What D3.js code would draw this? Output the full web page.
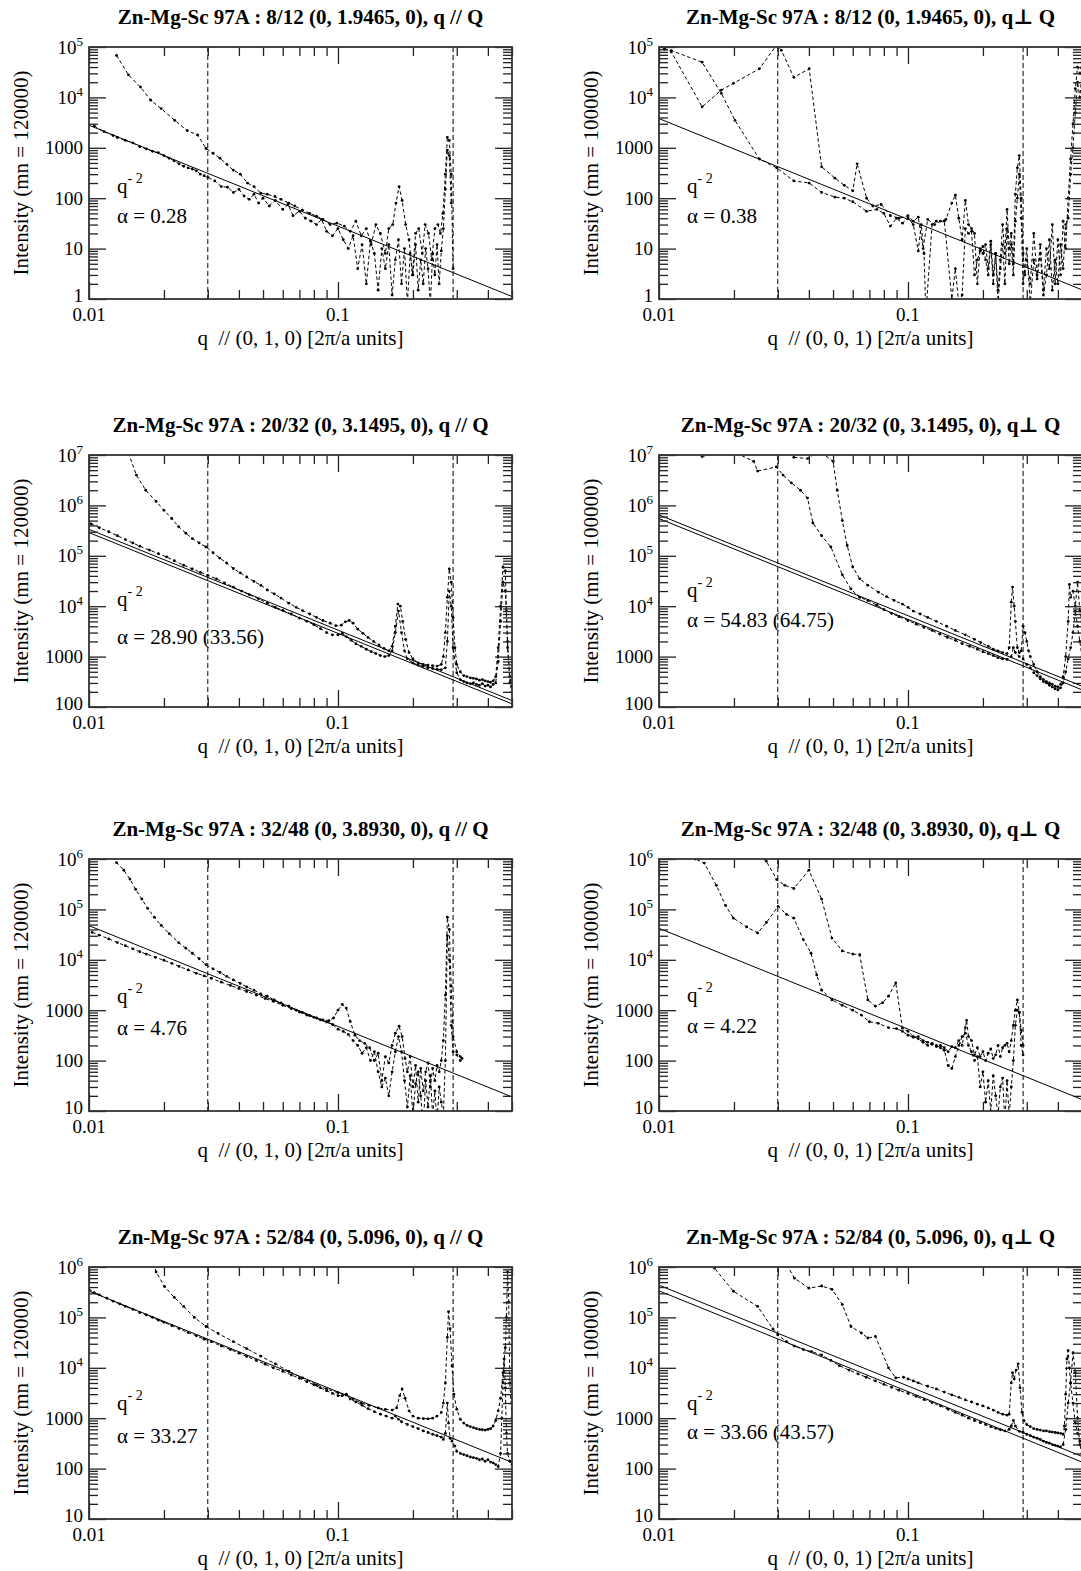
<!DOCTYPE html>
<html><head><meta charset="utf-8">
<script src="https://cdn.jsdelivr.net/npm/d3@7"></script>
<style>body{margin:0;background:#fff}svg{display:block}</style>
</head><body>
<script>
// ---------------- DATA ----------------
const titles = [
  "Zn-Mg-Sc 97A : 8/12 (0, 1.9465, 0), q // Q",
  "Zn-Mg-Sc 97A : 8/12 (0, 1.9465, 0), q\u22a5 Q",
  "Zn-Mg-Sc 97A : 20/32 (0, 3.1495, 0), q // Q",
  "Zn-Mg-Sc 97A : 20/32 (0, 3.1495, 0), q\u22a5 Q",
  "Zn-Mg-Sc 97A : 32/48 (0, 3.8930, 0), q // Q",
  "Zn-Mg-Sc 97A : 32/48 (0, 3.8930, 0), q\u22a5 Q",
  "Zn-Mg-Sc 97A : 52/84 (0, 5.096, 0), q // Q",
  "Zn-Mg-Sc 97A : 52/84 (0, 5.096, 0), q\u22a5 Q"
];
const yTitles = ["Intensity (mn = 120000)", "Intensity (mn = 100000)"];
const xTitles = ["q  // (0, 1, 0) [2\u03c0/a units]", "q  // (0, 0, 1) [2\u03c0/a units]"];
const xMajorTicks = [0.01, 0.1];
const xMinorTicks = [0.02,0.03,0.04,0.05,0.06,0.07,0.08,0.09,0.2,0.3,0.4,0.5];
const xTickLabels = ["0.01", "0.1"];
const markerLines = [0.03, 0.29];

const alpha_r1L = [0.28], alpha_r1R = [0.38];
const alpha_r2L = [28.90, 33.56], alpha_r2R = [54.83, 64.75];
const alpha_r3L = [4.76], alpha_r3R = [4.22];
const alpha_r4L = [33.27], alpha_r4R = [33.66, 43.57];

const r1L_a = [[0.0129,6.8e4],[0.0144,2.8e4],[0.0161,1.6e4],[0.0177,8.8e3],[0.0195,6.0e3],[0.0221,3.5e3],[0.0248,2.2e3],[0.0273,1.8e3],[0.0295,970],[0.0315,780],[0.0336,620],[0.0358,470],[0.038,360],[0.0405,300],[0.0433,200],[0.046,170],[0.049,126],[0.052,120],[0.0558,108],[0.059,95],[0.0635,80],[0.067,70],[0.072,58],[0.077,50],[0.082,44],[0.087,38],[0.093,30],[0.099,32],[0.106,28],[0.112,22],[0.118,35],[0.124,18],[0.13,25],[0.136,12],[0.142,30],[0.148,20],[0.155,8],[0.16,25],[0.166,30],[0.171,80],[0.176,170],[0.181,90],[0.187,30],[0.193,15],[0.199,3],[0.205,20],[0.211,25],[0.218,8],[0.224,30],[0.231,20],[0.238,6],[0.245,25],[0.252,30],[0.258,20],[0.264,50],[0.27,300],[0.275,1600],[0.28,1400],[0.285,300],[0.29,4]];
const r1L_b = [[0.0105,2.7e3],[0.0115,2.1e3],[0.0125,1.75e3],[0.013,1.6e3],[0.014,1.4e3],[0.015,1.25e3],[0.016,1.05e3],[0.017,950],[0.018,850],[0.019,800],[0.02,700],[0.021,620],[0.022,550],[0.023,480],[0.024,430],[0.025,400],[0.026,380],[0.027,350],[0.028,300],[0.029,280],[0.03,260],[0.032,220],[0.034,170],[0.036,165],[0.038,130],[0.04,150],[0.042,110],[0.044,95],[0.046,120],[0.048,80],[0.05,100],[0.053,70],[0.056,90],[0.06,60],[0.063,75],[0.066,45],[0.07,55],[0.074,40],[0.078,35],[0.082,30],[0.086,38],[0.09,22],[0.095,18],[0.1,25],[0.105,15],[0.11,10],[0.115,18],[0.12,4],[0.125,12],[0.13,2],[0.135,14],[0.14,8],[0.145,1.5],[0.15,10],[0.155,4],[0.16,12],[0.165,1.2],[0.17,6],[0.175,15],[0.18,2],[0.185,10],[0.19,0.8],[0.195,8],[0.2,3],[0.205,12],[0.21,1.5],[0.215,6],[0.22,2],[0.225,10],[0.23,4],[0.235,0.8],[0.24,8],[0.245,3],[0.25,12],[0.255,2],[0.26,9],[0.265,25],[0.27,150],[0.275,900],[0.28,700],[0.285,80]];

const r1R_a = [[0.0105,9.5e4],[0.0112,8e4],[0.0149,6.5e3],[0.0178,1.4e4],[0.0199,1.9e4],[0.0253,3.7e4],[0.0297,1.1e5],[0.031,8.6e4],[0.0348,2.5e4],[0.0401,3.7e4],[0.045,420],[0.0509,250],[0.0555,180],[0.06,140],[0.0625,480],[0.0682,100],[0.0722,70],[0.078,75],[0.085,45],[0.092,40],[0.1,45],[0.105,35],[0.11,42],[0.115,10],[0.12,38],[0.128,30],[0.135,35],[0.142,38],[0.15,80],[0.155,115],[0.16,40],[0.165,15],[0.17,90],[0.175,30],[0.18,25],[0.185,20],[0.19,2],[0.195,10],[0.2,8],[0.205,12],[0.21,4],[0.215,14],[0.22,3],[0.225,8],[0.23,1.5],[0.235,6],[0.24,30],[0.245,8],[0.25,60],[0.255,10],[0.26,20],[0.265,5],[0.27,120],[0.275,400],[0.28,700],[0.285,100],[0.29,8],[0.295,3],[0.3,6],[0.31,2],[0.32,20],[0.33,3],[0.34,12],[0.35,1.5],[0.36,10],[0.37,4],[0.38,30],[0.39,2],[0.4,15],[0.41,3],[0.42,35],[0.43,10],[0.44,100],[0.45,600],[0.46,3000],[0.47,1.5e4],[0.48,4e4],[0.49,3e4],[0.5,5e4]];
const r1R_b = [[0.0105,9e4],[0.0112,8.5e4],[0.0149,5e4],[0.0178,1.2e4],[0.0202,3.5e3],[0.0253,600],[0.0297,400],[0.0348,220],[0.0401,200],[0.045,130],[0.0509,105],[0.0555,100],[0.06,85],[0.0682,55],[0.075,60],[0.08,50],[0.085,28],[0.09,40],[0.095,32],[0.1,40],[0.105,30],[0.11,9],[0.113,30],[0.116,8],[0.118,0.5],[0.125,30],[0.13,35],[0.14,35],[0.15,1],[0.155,4],[0.16,0.8],[0.165,1.2],[0.17,25],[0.175,20],[0.18,22],[0.185,3],[0.19,6],[0.195,9],[0.2,11],[0.205,6],[0.21,3],[0.215,12],[0.22,2],[0.225,8],[0.23,0.8],[0.235,4],[0.24,12],[0.245,2],[0.25,25],[0.255,5],[0.26,12],[0.265,3],[0.27,35],[0.275,100],[0.28,300],[0.285,40],[0.29,2],[0.3,10],[0.31,0.8],[0.32,6],[0.33,2.5],[0.34,8],[0.35,1.2],[0.36,3],[0.37,15],[0.38,1.5],[0.39,6],[0.4,2],[0.41,12],[0.42,4],[0.43,30],[0.44,40],[0.45,300],[0.46,1000],[0.47,5000],[0.48,2e4],[0.49,1e4],[0.5,3e4]];

const r2L_a = [[0.0144,1.1e7],[0.0155,4e6],[0.0169,2e6],[0.0186,1.2e6],[0.02,8e5],[0.0215,5.5e5],[0.0229,3.8e5],[0.0245,2.8e5],[0.026,2.2e5],[0.0277,1.8e5],[0.0295,1.5e5],[0.0315,1.15e5],[0.0335,9e4],[0.0357,7.2e4],[0.038,5.6e4],[0.0405,4.6e4],[0.043,3.8e4],[0.046,3.1e4],[0.049,2.6e4],[0.052,2.1e4],[0.0555,1.75e4],[0.059,1.45e4],[0.0635,1.15e4],[0.068,9.5e3],[0.072,8.2e3],[0.077,7e3],[0.082,6e3],[0.087,5.2e3],[0.093,4.6e3],[0.098,4.1e3],[0.103,4.2e3],[0.107,4.9e3],[0.111,5.2e3],[0.115,4.6e3],[0.12,3.5e3],[0.126,2.9e3],[0.132,2.4e3],[0.139,2e3],[0.146,1.7e3],[0.153,1.45e3],[0.16,1.3e3],[0.165,1.6e3],[0.17,4e3],[0.174,1.1e4],[0.178,1e4],[0.182,5e3],[0.187,2.2e3],[0.193,1.2e3],[0.2,900],[0.21,750],[0.22,700],[0.23,680],[0.24,660],[0.25,650],[0.26,700],[0.265,1000],[0.27,3000],[0.275,1.5e4],[0.28,5.5e4],[0.285,3e4],[0.29,6e3],[0.295,1500],[0.3,700],[0.31,500],[0.32,420],[0.33,400],[0.34,380],[0.35,370],[0.36,360],[0.37,340],[0.38,350],[0.39,330],[0.4,320],[0.41,310],[0.42,330],[0.43,400],[0.44,1500],[0.45,1e4],[0.46,6e4],[0.47,5e4],[0.475,8e3],[0.48,1500],[0.49,400],[0.5,250]];
const r2L_b = [[0.0102,4.3e5],[0.011,3.6e5],[0.012,3e5],[0.013,2.5e5],[0.014,2.1e5],[0.015,1.8e5],[0.016,1.55e5],[0.0175,1.3e5],[0.019,1.1e5],[0.0205,9.5e4],[0.022,8e4],[0.024,6.5e4],[0.026,5.5e4],[0.028,4.7e4],[0.03,4.1e4],[0.0325,3.5e4],[0.035,2.9e4],[0.038,2.4e4],[0.041,2e4],[0.044,1.7e4],[0.048,1.4e4],[0.052,1.15e4],[0.056,9.5e3],[0.06,8.3e3],[0.065,7e3],[0.07,5.8e3],[0.075,5e3],[0.08,4.3e3],[0.085,3.6e3],[0.09,3e3],[0.095,2.7e3],[0.1,2.7e3],[0.104,2.9e3],[0.108,2.5e3],[0.113,2.1e3],[0.118,1.8e3],[0.124,1.6e3],[0.13,1.4e3],[0.136,1.25e3],[0.142,1.15e3],[0.148,1.05e3],[0.154,1e3],[0.16,1.05e3],[0.165,1.3e3],[0.17,3e3],[0.175,8e3],[0.18,3e3],[0.185,1.3e3],[0.19,900],[0.2,750],[0.21,680],[0.22,640],[0.23,600],[0.24,580],[0.25,560],[0.26,550],[0.27,600],[0.275,2e3],[0.28,2e4],[0.285,1e4],[0.29,1.5e3],[0.3,480],[0.31,350],[0.32,320],[0.33,300],[0.34,290],[0.35,300],[0.36,280],[0.37,270],[0.38,290],[0.39,260],[0.4,270],[0.41,250],[0.42,280],[0.43,300],[0.44,800],[0.45,5e3],[0.46,3e4],[0.47,2e4],[0.48,2e3],[0.49,300],[0.5,200]];

const r2R_a = [[0.0149,9.3e6],[0.019,1.3e7],[0.024,7.5e6],[0.0249,4.8e6],[0.0296,5.8e6],[0.0315,4e6],[0.034,2.8e6],[0.037,2e6],[0.0395,1.4e6],[0.0415,4.5e5],[0.045,2.5e5],[0.049,1.5e5],[0.0545,4.2e4],[0.059,2.2e4],[0.064,1.5e4],[0.069,1.3e4],[0.075,1.05e4],[0.08,8.6e3],[0.086,7.2e3],[0.092,6.2e3],[0.1,5.2e3],[0.108,4.4e3],[0.116,3.8e3],[0.125,3.3e3],[0.134,2.8e3],[0.144,2.4e3],[0.155,2.1e3],[0.165,1.8e3],[0.177,1.6e3],[0.19,1.4e3],[0.2,1.25e3],[0.21,1.15e3],[0.22,1.05e3],[0.23,950],[0.24,900],[0.25,880],[0.26,1e3],[0.265,1.5e3],[0.27,1.2e3],[0.28,1e3],[0.29,900],[0.3,700],[0.31,600],[0.32,480],[0.33,420],[0.34,360],[0.35,320],[0.36,300],[0.37,270],[0.38,250],[0.39,230],[0.4,220],[0.41,240],[0.42,300],[0.43,500],[0.44,900],[0.45,1500],[0.46,3e3],[0.47,8e3],[0.48,4e3],[0.49,2e3],[0.5,1e3]];
const r2R_b = [[0.0348,9e6],[0.0395,8.5e6],[0.044,1.2e7],[0.05,7.5e6],[0.052,2e6],[0.0545,5e5],[0.057,1.6e5],[0.06,6e4],[0.064,3.5e4],[0.069,2.6e4],[0.0761,1.9e4],[0.082,1.55e4],[0.088,1.3e4],[0.095,1.1e4],[0.1,9.5e3],[0.105,8e3],[0.112,7e3],[0.12,6e3],[0.13,5e3],[0.143,4e3],[0.155,3.3e3],[0.17,2.7e3],[0.185,2.2e3],[0.196,1.9e3],[0.21,1.6e3],[0.22,1.4e3],[0.23,1.3e3],[0.24,1.2e3],[0.25,1.15e3],[0.255,1.5e3],[0.26,1.2e4],[0.263,2.4e4],[0.267,1e4],[0.27,5e3],[0.275,1.5e3],[0.28,1.2e3],[0.285,1.3e3],[0.29,4e3],[0.295,3e3],[0.3,2e3],[0.305,1.3e3],[0.31,1e3],[0.32,700],[0.33,500],[0.34,400],[0.35,350],[0.36,320],[0.37,300],[0.38,280],[0.39,260],[0.4,250],[0.41,280],[0.42,400],[0.43,1e3],[0.44,5e3],[0.445,2.7e4],[0.45,1.5e4],[0.46,2e4],[0.47,1e4],[0.48,3e4],[0.49,8e3],[0.5,5e3]];

const r3L_a = [[0.0125,1.1e6],[0.0129,8.5e5],[0.0138,6e5],[0.0146,4e5],[0.0154,2.5e5],[0.0163,1.6e5],[0.0172,1.05e5],[0.0183,7e4],[0.0195,4.8e4],[0.021,3.3e4],[0.0229,2.2e4],[0.0245,1.7e4],[0.026,1.35e4],[0.0277,1.05e4],[0.0295,8e3],[0.0315,6.6e3],[0.0336,5.6e3],[0.0357,4.7e3],[0.038,4e3],[0.0405,3.4e3],[0.043,2.9e3],[0.046,2.5e3],[0.049,2.1e3],[0.052,1.9e3],[0.0555,1.6e3],[0.059,1.4e3],[0.0635,1.2e3],[0.068,1e3],[0.072,900],[0.077,780],[0.082,700],[0.087,640],[0.092,620],[0.096,700],[0.1,1e3],[0.104,1.3e3],[0.108,1.1e3],[0.112,600],[0.117,320],[0.122,250],[0.128,220],[0.134,180],[0.14,100],[0.145,140],[0.15,40],[0.155,120],[0.16,90],[0.165,200],[0.17,350],[0.176,480],[0.181,300],[0.186,110],[0.19,60],[0.195,120],[0.2,30],[0.205,80],[0.21,15],[0.215,70],[0.22,25],[0.225,60],[0.23,90],[0.235,30],[0.24,70],[0.245,40],[0.25,80],[0.255,60],[0.26,100],[0.265,250],[0.27,2e3],[0.275,7e4],[0.28,4e4],[0.285,3e3],[0.29,300],[0.3,150],[0.31,120],[0.315,110]];
const r3L_b = [[0.0103,3.5e4],[0.011,3.1e4],[0.012,2.6e4],[0.013,2.2e4],[0.014,1.9e4],[0.015,1.65e4],[0.016,1.45e4],[0.017,1.3e4],[0.0185,1.12e4],[0.02,9.8e3],[0.0215,8.5e3],[0.023,7.4e3],[0.025,6.3e3],[0.027,5.4e3],[0.029,4.8e3],[0.031,4.3e3],[0.034,3.6e3],[0.037,3.1e3],[0.04,2.7e3],[0.043,2.35e3],[0.047,2e3],[0.051,1.7e3],[0.055,1.5e3],[0.06,1.25e3],[0.065,1.07e3],[0.07,920],[0.075,800],[0.08,720],[0.085,640],[0.09,580],[0.095,520],[0.1,420],[0.105,380],[0.11,330],[0.115,250],[0.12,200],[0.125,140],[0.13,180],[0.135,100],[0.14,150],[0.145,60],[0.15,30],[0.155,45],[0.16,20],[0.165,60],[0.17,150],[0.175,300],[0.18,150],[0.185,40],[0.19,12],[0.195,50],[0.2,8],[0.205,35],[0.21,60],[0.215,20],[0.22,5],[0.225,40],[0.23,12],[0.235,50],[0.24,8],[0.245,25],[0.25,6],[0.255,30],[0.26,15],[0.265,8],[0.27,100],[0.275,3e4],[0.28,1e4],[0.285,500],[0.29,150],[0.3,130],[0.31,100]];

const r3R_a = [[0.0135,1.1e6],[0.014,1e6],[0.0152,8.3e5],[0.017,3e5],[0.0185,1.2e5],[0.0199,6.7e4],[0.0225,4.5e4],[0.0249,3.4e4],[0.027,5.5e4],[0.0301,1.15e5],[0.0325,8e4],[0.0348,6.7e4],[0.038,2.5e4],[0.0408,1.35e4],[0.043,5e3],[0.045,2.5e3],[0.0495,1.6e3],[0.0545,1.25e3],[0.06,1e3],[0.065,800],[0.07,590],[0.076,550],[0.0835,450],[0.09,430],[0.095,380],[0.1,320],[0.105,290],[0.11,300],[0.115,250],[0.12,230],[0.125,210],[0.13,200],[0.135,180],[0.14,160],[0.145,80],[0.15,70],[0.155,120],[0.16,200],[0.165,300],[0.17,350],[0.175,200],[0.18,150],[0.185,100],[0.19,120],[0.195,30],[0.2,60],[0.205,15],[0.21,40],[0.215,10],[0.22,50],[0.225,20],[0.23,8],[0.235,30],[0.24,45],[0.245,6],[0.25,40],[0.255,8],[0.26,30],[0.265,100],[0.27,500],[0.275,1e3],[0.28,900],[0.285,200],[0.29,130]];
const r3R_b = [[0.025,1.2e6],[0.027,9e5],[0.0297,3.9e5],[0.032,3e5],[0.0348,2.6e5],[0.04,6e5],[0.045,1.6e5],[0.0495,2.7e4],[0.0545,1.5e4],[0.06,1.3e4],[0.064,1.26e4],[0.069,1.6e3],[0.074,1.2e3],[0.079,1.4e3],[0.0835,1.9e3],[0.0893,3.5e3],[0.095,440],[0.1,380],[0.105,300],[0.11,270],[0.115,230],[0.12,200],[0.125,220],[0.13,190],[0.135,200],[0.14,180],[0.145,150],[0.15,190],[0.155,180],[0.16,250],[0.165,200],[0.17,450],[0.172,630],[0.175,300],[0.18,250],[0.185,130],[0.19,180],[0.195,120],[0.2,150],[0.205,100],[0.21,140],[0.215,170],[0.22,110],[0.225,130],[0.23,200],[0.235,120],[0.24,180],[0.245,200],[0.25,220],[0.255,150],[0.26,250],[0.265,500],[0.27,1e3],[0.275,1.6e3],[0.28,900],[0.285,400],[0.29,200]];

const r4L_a = [[0.0182,1.2e6],[0.0186,8e5],[0.0201,4.1e5],[0.022,2.5e5],[0.024,1.65e5],[0.0265,1e5],[0.0295,6.6e4],[0.033,4.8e4],[0.038,3.3e4],[0.043,2.4e4],[0.049,1.7e4],[0.056,1.2e4],[0.0635,8.5e3],[0.072,6.3e3],[0.082,4.6e3],[0.09,3.8e3],[0.1,3.2e3],[0.108,2.9e3],[0.115,2.4e3],[0.124,2e3],[0.133,1.8e3],[0.145,1.6e3],[0.155,1.5e3],[0.165,1.45e3],[0.172,1.6e3],[0.177,2.8e3],[0.181,3.8e3],[0.186,2.5e3],[0.193,1.4e3],[0.2,1.1e3],[0.21,1e3],[0.22,980],[0.23,970],[0.24,1e3],[0.25,1.1e3],[0.26,1.3e3],[0.265,2e3],[0.27,5e3],[0.275,4e4],[0.278,1.3e5],[0.282,6e4],[0.287,1.1e4],[0.292,3e3],[0.3,1.5e3],[0.31,950],[0.32,800],[0.33,720],[0.34,680],[0.35,650],[0.36,620],[0.37,600],[0.38,590],[0.39,580],[0.4,600],[0.41,620],[0.42,700],[0.43,900],[0.44,1.4e3],[0.45,2.5e3],[0.46,8e3],[0.47,2.5e4],[0.475,1e5],[0.48,8e5],[0.485,2e5],[0.49,5e3],[0.5,1e3]];
const r4L_b = [[0.01,3.6e5],[0.0105,3.1e5],[0.011,2.8e5],[0.0118,2.4e5],[0.0125,2.1e5],[0.0133,1.85e5],[0.014,1.65e5],[0.015,1.45e5],[0.016,1.25e5],[0.017,1.12e5],[0.018,1e5],[0.019,8.8e4],[0.02,8e4],[0.0215,6.9e4],[0.023,6e4],[0.025,5e4],[0.027,4.3e4],[0.029,3.7e4],[0.031,3.3e4],[0.034,2.7e4],[0.037,2.3e4],[0.04,1.95e4],[0.043,1.68e4],[0.047,1.4e4],[0.051,1.18e4],[0.055,1e4],[0.06,8.5e3],[0.065,7.2e3],[0.07,6.2e3],[0.075,5.3e3],[0.08,4.6e3],[0.085,4e3],[0.09,3.5e3],[0.095,3.1e3],[0.1,2.8e3],[0.104,2.8e3],[0.108,3e3],[0.112,2.4e3],[0.118,2.1e3],[0.125,1.8e3],[0.132,1.55e3],[0.14,1.35e3],[0.148,1.2e3],[0.156,1.1e3],[0.165,1e3],[0.17,1.1e3],[0.175,950],[0.18,850],[0.19,750],[0.2,680],[0.21,620],[0.22,560],[0.23,520],[0.24,480],[0.25,450],[0.26,420],[0.265,380],[0.27,500],[0.275,2e3],[0.278,800],[0.282,400],[0.287,350],[0.295,280],[0.3,220],[0.31,200],[0.32,190],[0.33,180],[0.34,170],[0.35,165],[0.36,160],[0.37,150],[0.38,155],[0.39,140],[0.4,150],[0.41,135],[0.42,130],[0.43,120],[0.44,110],[0.45,200],[0.455,1e3],[0.46,5e3],[0.465,1.5e4],[0.47,4e3],[0.475,500],[0.48,200],[0.49,140],[0.5,120]];

const r4R_a = [[0.0162,1.1e6],[0.0167,9.5e5],[0.0199,3.3e5],[0.0249,1.65e5],[0.0287,5.9e4],[0.03,4.5e4],[0.0325,3.3e4],[0.035,2.7e4],[0.038,2.3e4],[0.041,2.1e4],[0.045,1.8e4],[0.049,1.4e4],[0.053,1.1e4],[0.058,9e3],[0.063,7.6e3],[0.068,6.5e3],[0.074,5.5e3],[0.08,4.7e3],[0.086,4.1e3],[0.092,3.6e3],[0.1,3.1e3],[0.108,2.7e3],[0.116,2.35e3],[0.125,2.05e3],[0.135,1.75e3],[0.145,1.5e3],[0.155,1.3e3],[0.165,1.15e3],[0.175,1e3],[0.185,900],[0.195,820],[0.205,750],[0.215,680],[0.225,630],[0.235,590],[0.245,560],[0.255,600],[0.26,700],[0.265,900],[0.27,700],[0.28,550],[0.29,520],[0.3,480],[0.31,450],[0.32,420],[0.33,400],[0.34,380],[0.35,350],[0.36,330],[0.37,320],[0.38,300],[0.39,290],[0.4,280],[0.41,270],[0.42,300],[0.43,600],[0.44,2e3],[0.45,5e3],[0.46,2e4],[0.47,8e3],[0.48,1e3],[0.49,300],[0.5,200]];
const r4R_b = [[0.0326,1.1e6],[0.035,6e5],[0.04,3.8e5],[0.045,4.2e5],[0.0495,3.6e5],[0.0545,1.8e5],[0.059,6.6e4],[0.065,4.9e4],[0.069,3.9e4],[0.074,4.2e4],[0.0835,1e4],[0.0893,6.3e3],[0.096,6.5e3],[0.1,6e3],[0.105,5.5e3],[0.11,5e3],[0.12,4.3e3],[0.13,3.8e3],[0.14,3.3e3],[0.15,2.9e3],[0.16,2.6e3],[0.17,2.3e3],[0.18,2.1e3],[0.19,1.9e3],[0.2,1.75e3],[0.21,1.6e3],[0.22,1.45e3],[0.23,1.3e3],[0.24,1.2e3],[0.25,1.15e3],[0.255,1.2e3],[0.26,5e3],[0.263,8e3],[0.267,6e3],[0.272,9e3],[0.277,1.2e4],[0.282,4e3],[0.287,1.3e3],[0.292,900],[0.3,750],[0.31,680],[0.32,620],[0.33,600],[0.34,580],[0.35,560],[0.36,560],[0.37,540],[0.38,530],[0.39,520],[0.4,510],[0.41,500],[0.42,480],[0.425,700],[0.43,3e3],[0.435,1.5e4],[0.44,2.2e4],[0.445,1e4],[0.45,5e3],[0.46,2e3],[0.47,800],[0.48,500],[0.49,350],[0.5,300]];

// ---------------- LAYOUT ----------------
const W = 1081, H = 1571;
const colX = [89, 659], PW = 423, rowTop = [47, 455, 859, 1267], PH = 252;
const FONT = "'Liberation Serif','Times New Roman','DejaVu Serif',serif";

const panels = [
  {row:0,col:0,yDom:[1,1e5],series:[r1L_a,r1L_b],alphas:alpha_r1L,qY:146,aY:176},
  {row:0,col:1,yDom:[1,1e5],series:[r1R_a,r1R_b],alphas:alpha_r1R,qY:146,aY:176},
  {row:1,col:0,yDom:[100,1e7],series:[r2L_a,r2L_b],alphas:alpha_r2L,qY:151,aY:189},
  {row:1,col:1,yDom:[100,1e7],series:[r2R_a,r2R_b],alphas:alpha_r2R,qY:142,aY:172},
  {row:2,col:0,yDom:[10,1e6],series:[r3L_a,r3L_b],alphas:alpha_r3L,qY:144,aY:176},
  {row:2,col:1,yDom:[10,1e6],series:[r3R_a,r3R_b],alphas:alpha_r3R,qY:143,aY:174},
  {row:3,col:0,yDom:[10,1e6],series:[r4L_a,r4L_b],alphas:alpha_r4L,qY:143,aY:176},
  {row:3,col:1,yDom:[10,1e6],series:[r4R_a,r4R_b],alphas:alpha_r4R,qY:143,aY:172}
];

const svg = d3.select("body").append("svg").attr("width", W).attr("height", H)
  .style("font-family", FONT).style("background", "#fff");
const defs = svg.append("defs");

panels.forEach((p, i) => {
  const x0 = colX[p.col], y0 = rowTop[p.row];
  const x = d3.scaleLog().domain([0.01, 0.5]).range([x0, x0 + PW]);
  const y = d3.scaleLog().domain(p.yDom).range([y0 + PH, y0]);
  const g = svg.append("g");

  defs.append("clipPath").attr("id", "clip" + i).append("rect")
    .attr("x", x0).attr("y", y0).attr("width", PW).attr("height", PH);
  const dg = g.append("g").attr("clip-path", `url(#clip${i})`);

  // vertical dashed marker lines
  dg.selectAll(null).data(markerLines).join("line")
    .attr("x1", d => x(d)).attr("x2", d => x(d)).attr("y1", y0).attr("y2", y0 + PH)
    .attr("stroke", "#000").attr("stroke-width", 1).attr("stroke-dasharray", "5,3");

  // q^-2 fit lines
  const fitLine = d3.line().x(d => x(d[0])).y(d => y(d[1]));
  p.alphas.forEach(a => {
    dg.append("path").datum([[0.01, a / 1e-4], [0.5, a / 0.25]])
      .attr("d", fitLine).attr("fill", "none").attr("stroke", "#000").attr("stroke-width", 1);
  });

  // data series
  const line = d3.line().x(d => x(d[0])).y(d => y(d[1]));
  p.series.forEach(s => {
    dg.append("path").datum(s).attr("d", line).attr("fill", "none")
      .attr("stroke", "#000").attr("stroke-width", 1).attr("stroke-dasharray", "3.5,2.5");
    dg.selectAll(null).data(s).join("circle")
      .attr("cx", d => x(d[0])).attr("cy", d => y(d[1])).attr("r", 1.4).attr("fill", "#000");
  });

  // ticks
  const [ymin, ymax] = p.yDom;
  const yMaj = [], yMin = [];
  for (let e = Math.round(Math.log10(ymin)); e <= Math.round(Math.log10(ymax)); e++) {
    const v = Math.pow(10, e); yMaj.push(v);
    if (v < ymax) for (let m = 2; m <= 9; m++) yMin.push(m * v);
  }
  const styleAxis = s => { s.select(".domain").remove(); s.selectAll("line").attr("stroke", "#222").attr("stroke-width", 1.3); };
  g.append("g").attr("transform", `translate(${x0},0)`).call(d3.axisLeft(y).tickValues(yMaj).tickSize(-17).tickFormat("")).call(styleAxis);
  g.append("g").attr("transform", `translate(${x0},0)`).call(d3.axisLeft(y).tickValues(yMin).tickSize(-9).tickFormat("")).call(styleAxis);
  g.append("g").attr("transform", `translate(${x0 + PW},0)`).call(d3.axisRight(y).tickValues(yMaj).tickSize(-17).tickFormat("")).call(styleAxis);
  g.append("g").attr("transform", `translate(${x0 + PW},0)`).call(d3.axisRight(y).tickValues(yMin).tickSize(-9).tickFormat("")).call(styleAxis);
  g.append("g").attr("transform", `translate(0,${y0 + PH})`).call(d3.axisBottom(x).tickValues(xMajorTicks).tickSize(-17).tickFormat("")).call(styleAxis);
  g.append("g").attr("transform", `translate(0,${y0 + PH})`).call(d3.axisBottom(x).tickValues(xMinorTicks).tickSize(-9).tickFormat("")).call(styleAxis);
  g.append("g").attr("transform", `translate(0,${y0})`).call(d3.axisTop(x).tickValues(xMajorTicks).tickSize(-17).tickFormat("")).call(styleAxis);
  g.append("g").attr("transform", `translate(0,${y0})`).call(d3.axisTop(x).tickValues(xMinorTicks).tickSize(-9).tickFormat("")).call(styleAxis);

  // frame
  g.append("rect").attr("x", x0).attr("y", y0).attr("width", PW).attr("height", PH)
    .attr("fill", "none").attr("stroke", "#333").attr("stroke-width", 1.8);

  // y tick labels
  yMaj.forEach((v, k) => {
    const e = Math.round(Math.log10(v));
    const t = g.append("text").attr("x", x0 - 6).attr("y", y(v) - (k === 0 ? 4 : 0)).attr("dy", "0.35em")
      .attr("text-anchor", "end").attr("font-size", 19);
    if (e >= 4) {
      t.append("tspan").text("10");
      t.append("tspan").attr("font-size", 13).attr("dy", -8).text(e);
    } else t.text(String(v));
  });
  // x tick labels
  xMajorTicks.forEach((v, k) => {
    g.append("text").attr("x", x(v)).attr("y", y0 + PH + 22).attr("text-anchor", "middle")
      .attr("font-size", 19).text(xTickLabels[k]);
  });
  // axis titles
  g.append("text").attr("x", x0 + PW / 2).attr("y", y0 + PH + 46).attr("text-anchor", "middle")
    .attr("font-size", 21).style("white-space", "pre").text(xTitles[p.col]);
  g.append("text").attr("transform", `translate(${x0 - 68},${y0 + PH / 2}) rotate(-90)`)
    .attr("text-anchor", "middle").attr("dy", "0.35em").attr("font-size", 21).text(yTitles[p.col]);
  // title
  g.append("text").attr("x", x0 + PW / 2).attr("y", y0 - 23).attr("text-anchor", "middle")
    .attr("font-size", 21).attr("font-weight", "bold").text(titles[i]);

  // annotations
  const qt = g.append("text").attr("x", x0 + 28).attr("y", y0 + p.qY).attr("font-size", 21).style("white-space", "pre");
  qt.append("tspan").text("q");
  qt.append("tspan").attr("font-size", 14).attr("dy", -10).text("- 2");
  const fmt = d3.format(".2f");
  const aTxt = "\u03b1 = " + fmt(p.alphas[0]) + (p.alphas.length > 1 ? " (" + fmt(p.alphas[1]) + ")" : "");
  g.append("text").attr("x", x0 + 28).attr("y", y0 + p.aY).attr("font-size", 21).text(aTxt);
});
</script>
</body></html>
